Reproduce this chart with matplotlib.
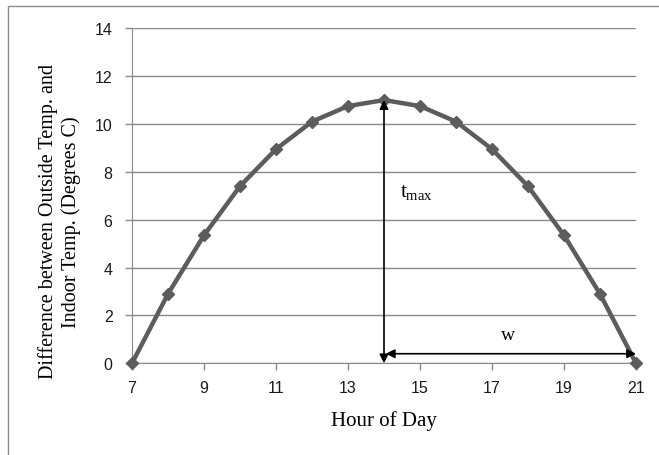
import matplotlib.pyplot as plt
from matplotlib.patches import Rectangle

hours = [7, 8, 9, 10, 11, 12, 13, 14, 15, 16, 17, 18, 19, 20, 21]
temp_diff = [0, 2.9, 5.35, 7.4, 8.95, 10.1, 10.75, 11, 10.75, 10.1, 8.95, 7.4, 5.35, 2.9, 0]

x_ticks = [7, 9, 11, 13, 15, 17, 19, 21]
y_ticks = [0, 2, 4, 6, 8, 10, 12, 14]

t_peak = 14
peak_val = 11
t_end = 21
w_level = 0.4

grey = '#5c5c5c'
serif = 'Liberation Serif'
sans = 'Liberation Sans'

plt.rcParams['mathtext.fontset'] = 'custom'
plt.rcParams['mathtext.rm'] = serif
plt.rcParams['mathtext.it'] = serif + ':italic'

fig = plt.figure(figsize=(6.59, 4.56), dpi=100)
ax = fig.add_axes([132 / 659, 1 - 364.3 / 456, (636 - 132) / 659, (364.3 - 29.3) / 456])

# chart border (cut off at right and bottom like the screenshot)
fig.patches.append(Rectangle((8 / 659, -0.05), 1.2, (449 / 456) + 0.05, transform=fig.transFigure,
                             fill=False, edgecolor='#8c8c8c', linewidth=1.0))

ax.plot(hours, temp_diff, color=grey, linewidth=3.2, marker='D', markersize=6.5,
        markerfacecolor=grey, markeredgecolor=grey, clip_on=False, zorder=3)

ax.set_xlim(7, 21)
ax.set_ylim(0, 14)
ax.set_xticks(x_ticks)
ax.set_yticks(y_ticks)
ax.grid(axis='y', color='#8a8a8a', linewidth=1.0)
ax.set_axisbelow(True)

for side in ['top', 'right']:
    ax.spines[side].set_visible(False)
ax.spines['left'].set_color('#8a8a8a')
ax.spines['bottom'].set_color('#8a8a8a')
ax.tick_params(axis='both', color='#8a8a8a', length=5, width=1, labelsize=11.5)
ax.tick_params(axis='x', pad=7)
ax.tick_params(axis='y', pad=9)
for lab in ax.get_xticklabels() + ax.get_yticklabels():
    lab.set_fontfamily(sans)
    lab.set_color('#1a1a1a')

ax.set_xlabel('Hour of Day', fontfamily=serif, fontsize=15, labelpad=11)
ax.set_ylabel('Difference between Outside Temp. and\nIndoor Temp. (Degrees C)',
              fontfamily=serif, fontsize=14.5, linespacing=1.2)
ax.yaxis.set_label_coords(-0.102, 0.425)

# annotation arrows
ax.annotate('', xy=(t_peak, peak_val), xytext=(t_peak, 0), annotation_clip=False,
            arrowprops=dict(arrowstyle='<|-|>', color='black', lw=1.2, mutation_scale=13,
                            shrinkA=0, shrinkB=0))
ax.annotate('', xy=(t_end, w_level), xytext=(t_peak + 0.05, w_level), annotation_clip=False,
            arrowprops=dict(arrowstyle='<|-|>', color='black', lw=1.2, mutation_scale=13,
                            shrinkA=0, shrinkB=0))

ax.text(14.45, 7.0, r'$\mathrm{t_{max}}$', fontsize=15, ha='left', va='baseline')
ax.text(17.45, 1.0, 'w', fontfamily=serif, fontsize=14, ha='center', va='baseline')

fig.savefig('out.png', dpi=100)
